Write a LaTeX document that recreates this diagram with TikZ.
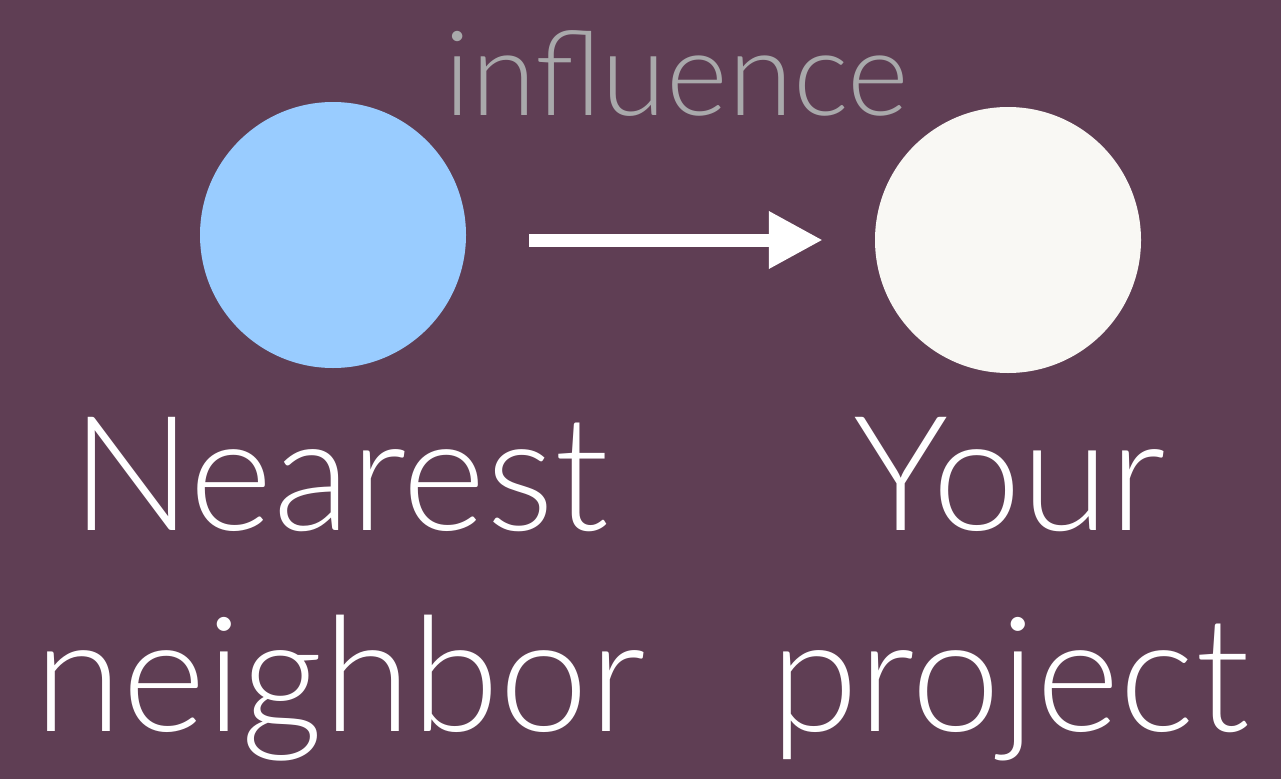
\documentclass[tikz,border=0pt]{standalone}
\usepackage{fontspec}
\IfFontExistsTF{Lato Light}{\setmainfont{Lato Light}}{\setmainfont{Lato}}
\usetikzlibrary{arrows.meta,positioning}
\definecolor{plum}{RGB}{95,62,84}
\definecolor{skyblue}{RGB}{153,204,255}
\definecolor{offwhite}{RGB}{249,248,244}
\definecolor{ashgray}{RGB}{169,169,171}

\begin{document}
\begin{tikzpicture}[x=1pt,y=-1pt,
	blob/.style={circle,inner sep=0pt,minimum size=266pt},
	bigtext/.style={white,align=center,font=\fontsize{160}{201}\selectfont}]%[font=\sffamily]
\fill[plum] (0,0) rectangle (1281,779);
\useasboundingbox (0,0) rectangle (1281,779);
\node[blob,fill=skyblue] (NN) at (333,235) {};
\node[blob,fill=offwhite] (YP) at (1008,240) {};
\draw[white,line width=13pt,shorten <=63pt,shorten >=52pt,
	-{Triangle[length=54pt,width=54pt]}] (NN.east |- YP) -- (YP);
\node[anchor=base,ashgray,font=\fontsize{118}{118}\selectfont] (INF) at (677,115) {influence};
\node[bigtext,anchor=north] (NNL) at (340,414) {Nearest\\neighbor};
\node[bigtext,anchor=north] (YPL) at (1010,414) {Your\\project};
\end{tikzpicture}
\end{document}
